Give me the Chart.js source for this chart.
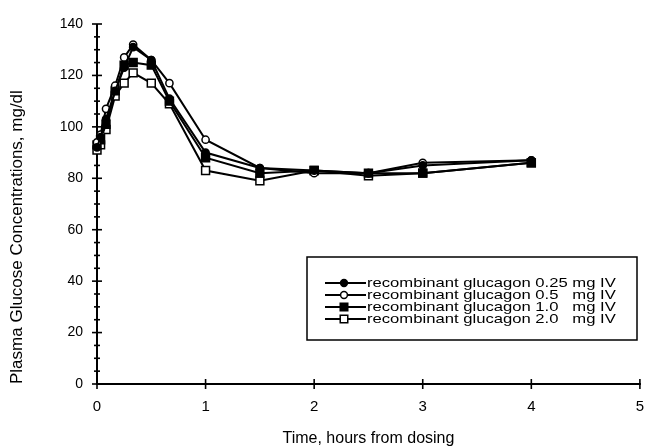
<!DOCTYPE html>
<html><head><meta charset="utf-8">
<script src="https://cdn.jsdelivr.net/npm/chart.js@4"></script>
<style>html,body{margin:0;padding:0;background:#fff;} canvas{display:block}</style>
</head><body>
<canvas id="c" width="647" height="446"></canvas>
<script>
// ---- data ----
const times   = [0, 0.033, 0.083, 0.167, 0.25, 0.333, 0.5, 0.667, 1, 1.5, 2, 2.5, 3, 4];
const dose025 = [92, 96, 103, 114, 123, 131, 126, 111, 90, 84, 83, 82, 85, 87];
const dose05  = [94, 97, 107, 116, 127, 132, 126, 117, 95, 84, 82, 82, 86, 87];
const dose10  = [93, 95, 101, 114, 124, 125, 124, 110, 88, 82, 83, 82, 82, 86];
const dose20  = [91, 93, 99, 112, 117, 121, 117, 109, 83, 79, 83, 81, 82, 86];
const seriesLabels = [
  'recombinant glucagon 0.25 mg IV',
  'recombinant glucagon 0.5 mg IV',
  'recombinant glucagon 1.0 mg IV',
  'recombinant glucagon 2.0 mg IV'
];
const xTickValues = [0, 1, 2, 3, 4, 5];
const yTickValues = [0, 20, 40, 60, 80, 100, 120, 140];
const yMinorStep = 5;
const xTitle = 'Time, hours from dosing';
const yTitle = 'Plasma Glucose Concentrations, mg/dl';

const FONT = '"Liberation Sans", Arial, Helvetica, sans-serif';
const toPts = vals => times.map((t, i) => ({x: t, y: vals[i]}));

const styles = [
  {pointStyle: 'circle', radius: 3.6, bg: '#000'},
  {pointStyle: 'circle', radius: 3.6, bg: '#fff'},
  {pointStyle: 'rect', radius: 5.6, bg: '#000'},
  {pointStyle: 'rect', radius: 5.6, bg: '#fff'}
];
const seriesVals = [dose025, dose05, dose10, dose20];

const datasets = seriesVals.map((v, i) => ({
  label: seriesLabels[i],
  data: toPts(v),
  borderColor: '#000',
  borderWidth: 2,
  pointStyle: styles[i].pointStyle,
  pointRadius: styles[i].radius,
  pointBackgroundColor: styles[i].bg,
  pointBorderColor: '#000',
  pointBorderWidth: 1.5,
  tension: 0,
  clip: false
}));

const axesPlugin = {
  id: 'axesPlugin',
  beforeDatasetsDraw(chart) {
    const ctx = chart.ctx, xs = chart.scales.x, ys = chart.scales.y;
    const x0 = xs.getPixelForValue(0), y0 = ys.getPixelForValue(0);
    ctx.save();
    ctx.strokeStyle = '#000';
    ctx.lineCap = 'butt';
    ctx.lineWidth = 2;
    ctx.beginPath();
    ctx.moveTo(x0, ys.getPixelForValue(140));
    ctx.lineTo(x0, y0);
    ctx.lineTo(xs.getPixelForValue(5) + 1, y0);
    ctx.stroke();
    ctx.lineWidth = 1.6;
    for (let v = 0; v <= 140; v += yMinorStep) {
      const p = ys.getPixelForValue(v);
      const major = yTickValues.includes(v);
      ctx.beginPath();
      ctx.moveTo(x0 - (major ? 5 : 3), p);
      ctx.lineTo(x0 + (major ? 5 : 3), p);
      ctx.stroke();
    }
    xTickValues.forEach(v => {
      const p = xs.getPixelForValue(v);
      ctx.beginPath();
      ctx.moveTo(p, y0 - 5);
      ctx.lineTo(p, y0 + 5);
      ctx.stroke();
    });
    ctx.restore();
  }
};

const legendPlugin = {
  id: 'boxLegend',
  afterDatasetsDraw(chart) {
    const ctx = chart.ctx;
    const bx = 307, by = 257, bw = 330, bh = 83;
    ctx.save();
    ctx.fillStyle = '#fff';
    ctx.fillRect(bx, by, bw, bh);
    ctx.strokeStyle = '#000';
    ctx.lineWidth = 1.5;
    ctx.strokeRect(bx, by, bw, bh);
    const rowY = [283, 295, 307, 319];
    const sx = 1.28;
    ctx.font = '13px ' + FONT;
    ctx.textBaseline = 'middle';
    ctx.fillStyle = '#000';
    const maxPrefix = 'recombinant glucagon 0.25 ';
    const mgX = 367 + ctx.measureText(maxPrefix).width * sx;
    chart.data.datasets.forEach((ds, i) => {
      const y = rowY[i];
      ctx.lineWidth = 2;
      ctx.strokeStyle = '#000';
      ctx.beginPath();
      ctx.moveTo(325, y); ctx.lineTo(366, y);
      ctx.stroke();
      ctx.fillStyle = ds.pointBackgroundColor;
      ctx.lineWidth = 1.5;
      Chart.helpers.drawPoint(ctx, {pointStyle: ds.pointStyle, radius: ds.pointRadius * 0.95, rotation: 0, borderWidth: 1.5}, 344, y);
      ctx.fillStyle = '#000';
      const m = ds.label.match(/^(.*?)\s*(mg IV)$/);
      ctx.save();
      ctx.translate(367, y);
      ctx.scale(sx, 1);
      ctx.fillText(m[1], 0, 0);
      ctx.restore();
      ctx.save();
      ctx.translate(mgX, y);
      ctx.scale(sx, 1);
      ctx.fillText(m[2], 0, 0);
      ctx.restore();
    });
    ctx.restore();
  }
};

new Chart(document.getElementById('c'), {
  type: 'line',
  data: {datasets},
  options: {
    responsive: false,
    animation: false,
    devicePixelRatio: 1,
    layout: {padding: {top: 24, right: 6, left: 0, bottom: 0}},
    plugins: {legend: {display: false}, tooltip: {enabled: false}},
    scales: {
      x: {
        type: 'linear', min: 0, max: 5,
        afterFit(s) { s.height = 62; s.paddingRight = 0; s.paddingLeft = 0; },
        afterBuildTicks(s) { s.ticks = xTickValues.map(v => ({value: v})); },
        grid: {display: false, drawTicks: false},
        border: {display: false},
        ticks: {color: '#000', font: {family: FONT, size: 15}, padding: 14, maxRotation: 0},
        title: {display: true, text: xTitle, color: '#000', font: {family: FONT, size: 16}, padding: {top: 0, bottom: -2}}
      },
      y: {
        type: 'linear', min: 0, max: 140,
        afterFit(s) { s.width = 97; s.paddingTop = 0; s.paddingBottom = 0; },
        afterBuildTicks(s) { s.ticks = yTickValues.map(v => ({value: v})); },
        grid: {display: false, drawTicks: false},
        border: {display: false},
        ticks: {color: '#000', font: {family: FONT, size: 14}, padding: 14},
        title: {display: true, text: yTitle, color: '#000', align: 'start', font: {family: FONT, size: 17}, padding: {top: 7, bottom: 0}}
      }
    }
  },
  plugins: [axesPlugin, legendPlugin]
});
</script>
</body></html>
